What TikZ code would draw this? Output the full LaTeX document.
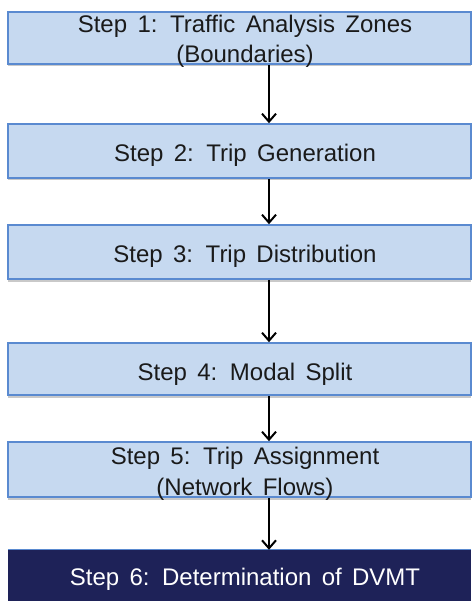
\documentclass[tikz,border=0pt]{standalone}
\usepackage{fontspec}
\setmainfont{Liberation Sans}[WordSpace=1.55]
\usetikzlibrary{arrows.meta,shadows}
\definecolor{boxfill}{HTML}{C6D9F0}
\definecolor{boxline}{HTML}{5A8AD0}
\definecolor{navy}{HTML}{1E2258}
\definecolor{ink}{HTML}{1A1A1A}
\tikzset{
  stepbox/.style={draw=boxline, line width=1.6pt, fill=boxfill,
    minimum width=463pt, inner sep=0pt,
    drop shadow={shadow xshift=0pt, shadow yshift=-2.5pt, opacity=0.35, fill=black!60}},
  finalbox/.style={fill=navy, draw=none, minimum width=463pt, inner sep=0pt},
  steptext/.style={anchor=base, inner sep=0pt, text=ink,
    font=\fontsize{24}{31}\selectfont},
  flow/.style={draw=black, line width=2pt,
    -{Straight Barb[length=8pt,width=14pt,line width=2pt]}}
}
\begin{document}
\begin{tikzpicture}[x=1pt,y=-1pt]
\clip (0,0) rectangle (472,601);
\fill[white] (0,0) rectangle (472,601);
\coordinate (axis) at (269,0);

% process boxes
\node[stepbox, minimum height=52pt] (s1) at (239.5,38) {};
\node[stepbox, minimum height=54pt] (s2) at (239.5,151) {};
\node[stepbox, minimum height=54pt] (s3) at (239.5,252) {};
\node[stepbox, minimum height=52pt] (s4) at (239.5,369) {};
\node[stepbox, minimum height=55pt] (s5) at (239.5,469.5) {};
\node[finalbox, minimum height=56pt] (s6) at (239.5,578) {};
\draw[boxline, line width=1.2pt] (s6.north west) -- (s6.north east);

% connectors
\draw[flow] (s1.south -| axis) -- (s2.north -| axis);
\draw[flow] (s2.south -| axis) -- (s3.north -| axis);
\draw[flow] (s3.south -| axis) -- (s4.north -| axis);
\draw[flow] (s4.south -| axis) -- (s5.north -| axis);
\draw[flow] (s5.south -| axis) -- (s6.north -| axis);

% labels
\node[steptext] (t1a) at (245,33) {Step 1: Traffic Analysis Zones};
\node[steptext] (t1b) at (245,63) {(Boundaries)};
\node[steptext] (t2) at (245,162) {Step 2: Trip Generation};
\node[steptext] (t3) at (245,262) {Step 3: Trip Distribution};
\node[steptext] (t4) at (245,380) {Step 4: Modal Split};
\node[steptext] (t5a) at (245,464) {Step 5: Trip Assignment};
\node[steptext] (t5b) at (245,495) {(Network Flows)};
\node[steptext, text=white] (t6) at (245,585) {Step 6: Determination of DVMT};
\end{tikzpicture}
\end{document}
